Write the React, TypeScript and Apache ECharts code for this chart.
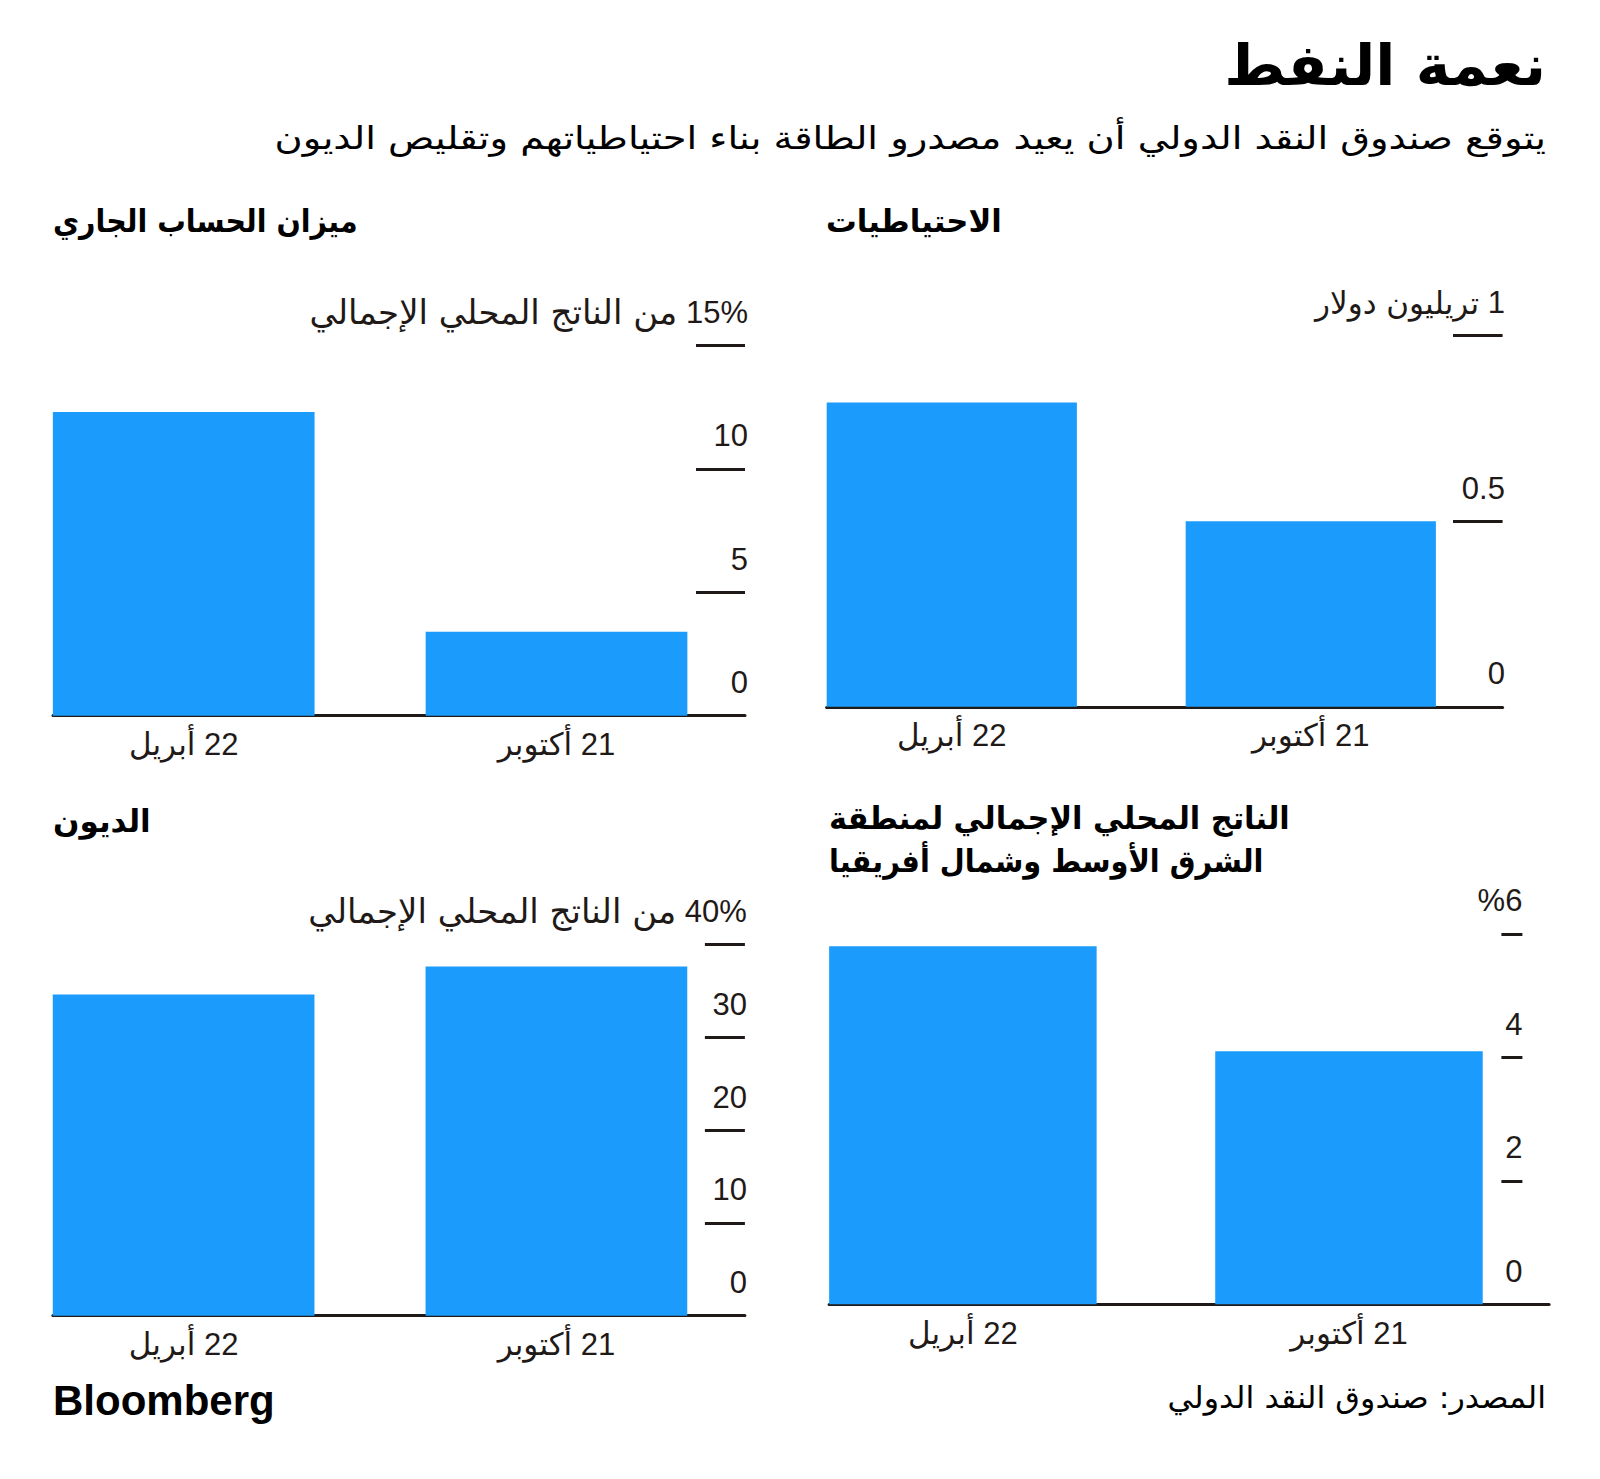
import React, { useEffect, useRef } from "react";
import * as echarts from "echarts";

// ---------- data ----------
const categories = ["22 أبريل", "21 أكتوبر"];
const currentAccount = [12.3, 3.4]; // % of GDP
const reserves = [0.82, 0.5]; // $ trillion
const debt = [34.6, 37.6]; // % of GDP
const gdpGrowth = [5.8, 4.1]; // %

// top tick labels: [number part, unit part]
const caTopLabel = ["15%", "من الناتج المحلي الإجمالي"];
const resTopLabel = ["1", "تريليون دولار"];
const debtTopLabel = ["40%", "من الناتج المحلي الإجمالي"];
const gdpTopLabel = ["%6", ""];

const mainTitle = "نعمة النفط";
const subTitle = "يتوقع صندوق النقد الدولي أن يعيد مصدرو الطاقة بناء احتياطياتهم وتقليص الديون";
const panelTitles = ["ميزان الحساب الجاري", "الاحتياطيات", "الديون"];
const gdpTitleLines = ["الناتج المحلي الإجمالي لمنطقة", "الشرق الأوسط وشمال أفريقيا"];
const sourceText = "المصدر: صندوق النقد الدولي";

// ---------- style ----------
const FONT = "'Liberation Sans', 'DejaVu Sans', sans-serif";
const AR_FONT = "'DejaVu Sans', sans-serif";
const INK = "#1f1a17";
const BLUE = "#1b9cfc";

const rtl = (s: string) => "\u202B" + s + "\u202C";

type Panel = {
  data: number[];
  left: number;
  width: number;
  top: number;
  height: number;
  xMin: number;
  xMax: number;
  barWidth: number;
  yMax: number;
  yInterval: number;
  tickLen: number;
  labelMargin: number;
  yOffset: number;
  topLabel: string[];
  unitSize: number;
};

const panels: Panel[] = [
  { data: currentAccount, left: 53, width: 692, top: 345.4, height: 370.3, xMin: -0.3506, xMax: 1.5056, barWidth: 261.7, yMax: 15, yInterval: 5, tickLen: 49, labelMargin: -3, yOffset: 0, topLabel: caTopLabel, unitSize: 34 },
  { data: reserves, left: 826.6, width: 676, top: 335.7, height: 371.1, xMin: -0.3487, xMax: 1.5343, barWidth: 250.2, yMax: 1, yInterval: 0.5, tickLen: 49.6, labelMargin: -2.3, yOffset: 0, topLabel: resTopLabel, unitSize: 31 },
  { data: debt, left: 52.9, width: 692, top: 944.3, height: 371.4, xMin: -0.3506, xMax: 1.5056, barWidth: 261.7, yMax: 40, yInterval: 10, tickLen: 40, labelMargin: -2, yOffset: 0, topLabel: debtTopLabel, unitSize: 34 },
  { data: gdpGrowth, left: 829.1, width: 720, top: 933.9, height: 370.4, xMin: -0.3465, xMax: 1.5183, barWidth: 267.5, yMax: 6, yInterval: 2, tickLen: 21, labelMargin: 0, yOffset: -26.7, topLabel: gdpTopLabel, unitSize: 31 },
];

function buildOption() {
  const grid: any[] = [];
  const xAxis: any[] = [];
  const yAxis: any[] = [];
  const series: any[] = [];

  panels.forEach((p, i) => {
    grid.push({ left: p.left, top: p.top, width: p.width, height: p.height, containLabel: false });
    xAxis.push({
      gridIndex: i,
      type: "value",
      min: p.xMin,
      max: p.xMax,
      axisLine: { show: true, onZero: false, lineStyle: { color: INK, width: 3 } },
      axisTick: { show: false },
      splitLine: { show: false },
      axisLabel: {
        customValues: [0, 1],
        formatter: (v: number) => rtl(categories[Math.round(v)] ?? ""),
        margin: 11,
        lineHeight: 36,
        fontSize: 31,
        color: INK,
        fontFamily: FONT,
      },
    });
    const rich = {
      n: { fontSize: 31, fontFamily: FONT, color: INK, lineHeight: 66 },
      a: { fontSize: p.unitSize, fontFamily: AR_FONT, color: INK, lineHeight: 66 },
    };
    yAxis.push({
      gridIndex: i,
      type: "value",
      position: "right",
      offset: p.yOffset,
      min: 0,
      max: p.yMax,
      interval: p.yInterval,
      axisLine: { show: false, onZero: false },
      axisTick: { show: true, inside: true, length: p.tickLen, lineStyle: { color: INK, width: 3 } },
      splitLine: { show: false },
      axisLabel: {
        inside: true,
        margin: p.labelMargin,
        align: "right",
        verticalAlign: "bottom",
        lineHeight: 66,
        fontSize: 31,
        color: INK,
        fontFamily: FONT,
        rich,
        formatter: (v: number) => {
          if (Math.abs(v - p.yMax) < 1e-9) {
            const [num, unit] = p.topLabel;
            // tokens in visual (left-to-right) order: unit text, then number on the right
            return unit ? `{a|${unit}}{n| ${num}}` : `{n|${num}}`;
          }
          return `{n|${v}}`;
        },
      },
    });
    series.push({
      type: "bar",
      xAxisIndex: i,
      yAxisIndex: i,
      data: p.data.map((v, k) => [k, v]),
      barWidth: p.barWidth,
      itemStyle: { color: BLUE },
      silent: true,
    });
  });

  const txt = (
    text: string,
    x: number,
    y: number,
    size: number,
    align: string,
    bold = false,
    scaleX = 1,
    family = AR_FONT
  ) => ({
    type: "text",
    x,
    y,
    scaleX,
    silent: true,
    style: {
      text,
      fontSize: size,
      fontWeight: bold ? "bold" : "normal",
      fontFamily: family,
      fill: "#000",
      align,
      verticalAlign: "middle",
    },
  });

  const graphic = [
    txt(rtl(mainTitle), 1546, 65, 57, "right", true, 1.03),
    txt(rtl(subTitle), 1546, 138, 32, "right", false, 1.2),
    txt(rtl(panelTitles[0]), 53, 221, 31, "left", true, 0.92),
    txt(rtl(panelTitles[1]), 826, 221, 31, "left", true, 0.99),
    txt(rtl(panelTitles[2]), 53, 821, 31, "left", true, 1.0),
    txt(rtl(gdpTitleLines[0]), 829, 818, 31, "left", true, 0.98),
    txt(rtl(gdpTitleLines[1]), 829, 861, 31, "left", true, 0.93),
    txt("Bloomberg", 53, 1400, 42, "left", true, 1, "'Liberation Sans', sans-serif"),
    txt(rtl(sourceText), 1546, 1397, 30, "right", false, 1.06),
  ];

  return {
    animation: false,
    backgroundColor: "#ffffff",
    grid,
    xAxis,
    yAxis,
    series,
    graphic,
  };
}

export default function App() {
  const ref = useRef<HTMLDivElement>(null);
  useEffect(() => {
    document.body.style.margin = "0";
    if (!ref.current) return;
    const chart = echarts.init(ref.current, null, { renderer: "svg" });
    chart.setOption(buildOption() as any);
    return () => chart.dispose();
  }, []);
  return <div ref={ref} style={{ width: 1600, height: 1479 }} />;
}
